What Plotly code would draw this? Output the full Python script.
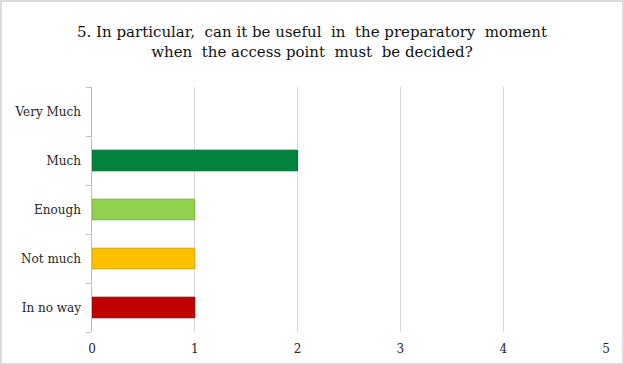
import plotly.graph_objects as go

# Survey answers, bottom to top
categories = ["In no way", "Not much", "Enough", "Much", "Very Much"]
counts = [1, 1, 1, 2, 0]
fill_colors = ["#C00000", "#FFC000", "#92D050", "#00843D", "rgba(0,0,0,0)"]
edge_colors = ["#8B0000", "#D9A300", "#7AB43C", "#006B2E", "rgba(0,0,0,0)"]
x_ticks = [0, 1, 2, 3, 4, 5]

title_text = ("5. In particular,  can it be useful  in  the preparatory  moment<br>"
              "when  the access point  must  be decided?")

SERIF = "DejaVu Serif"

fig = go.Figure(go.Bar(
    x=counts,
    y=categories,
    orientation="h",
    marker=dict(color=fill_colors, line=dict(color=edge_colors, width=1)),
    width=0.42,
))

# plot area spans x 92..606, y 87..332 px
L, R, T, B = 92, 18, 87, 33
PW, PH = 624 - L - R, 365 - T - B

fig.update_layout(
    width=624, height=365,
    margin=dict(l=L, r=R, t=T, b=B),
    paper_bgcolor="white",
    plot_bgcolor="white",
    showlegend=False,
    font=dict(family=SERIF, size=12, color="#262626"),
    annotations=[dict(
        text=title_text, x=(312 - L) / PW, y=1, xref="paper", yref="paper",
        xanchor="center", yanchor="bottom", yshift=24, showarrow=False,
        font=dict(family=SERIF, size=15, color="#111111"),
    )],
)

fig.add_shape(type="rect", xref="paper", yref="paper",
              x0=-(L - 1) / PW, x1=1 + (R - 1) / PW,
              y0=-(B - 1) / PH, y1=1 + (T - 1) / PH,
              line=dict(color="#d0d0d0", width=1.5), layer="below")

fig.update_xaxes(
    range=[0, 5], tickvals=x_ticks, showgrid=True, gridcolor="#d9d9d9",
    gridwidth=1, zeroline=False, showline=False, ticks="",
    ticklabelstandoff=8, automargin=False,
    tickfont=dict(family=SERIF, size=12, color="#262626"),
)
fig.update_yaxes(
    categoryorder="array", categoryarray=categories, range=[-0.5, 4.5],
    showline=True, linecolor="#bfbfbf", linewidth=1,
    ticks="outside", tickson="boundaries", ticklen=5, tickcolor="#bfbfbf",
    showgrid=False, ticksuffix="  ", automargin=False,
    tickfont=dict(family=SERIF, size=12, color="#262626"),
)

fig.write_html("out.html")
